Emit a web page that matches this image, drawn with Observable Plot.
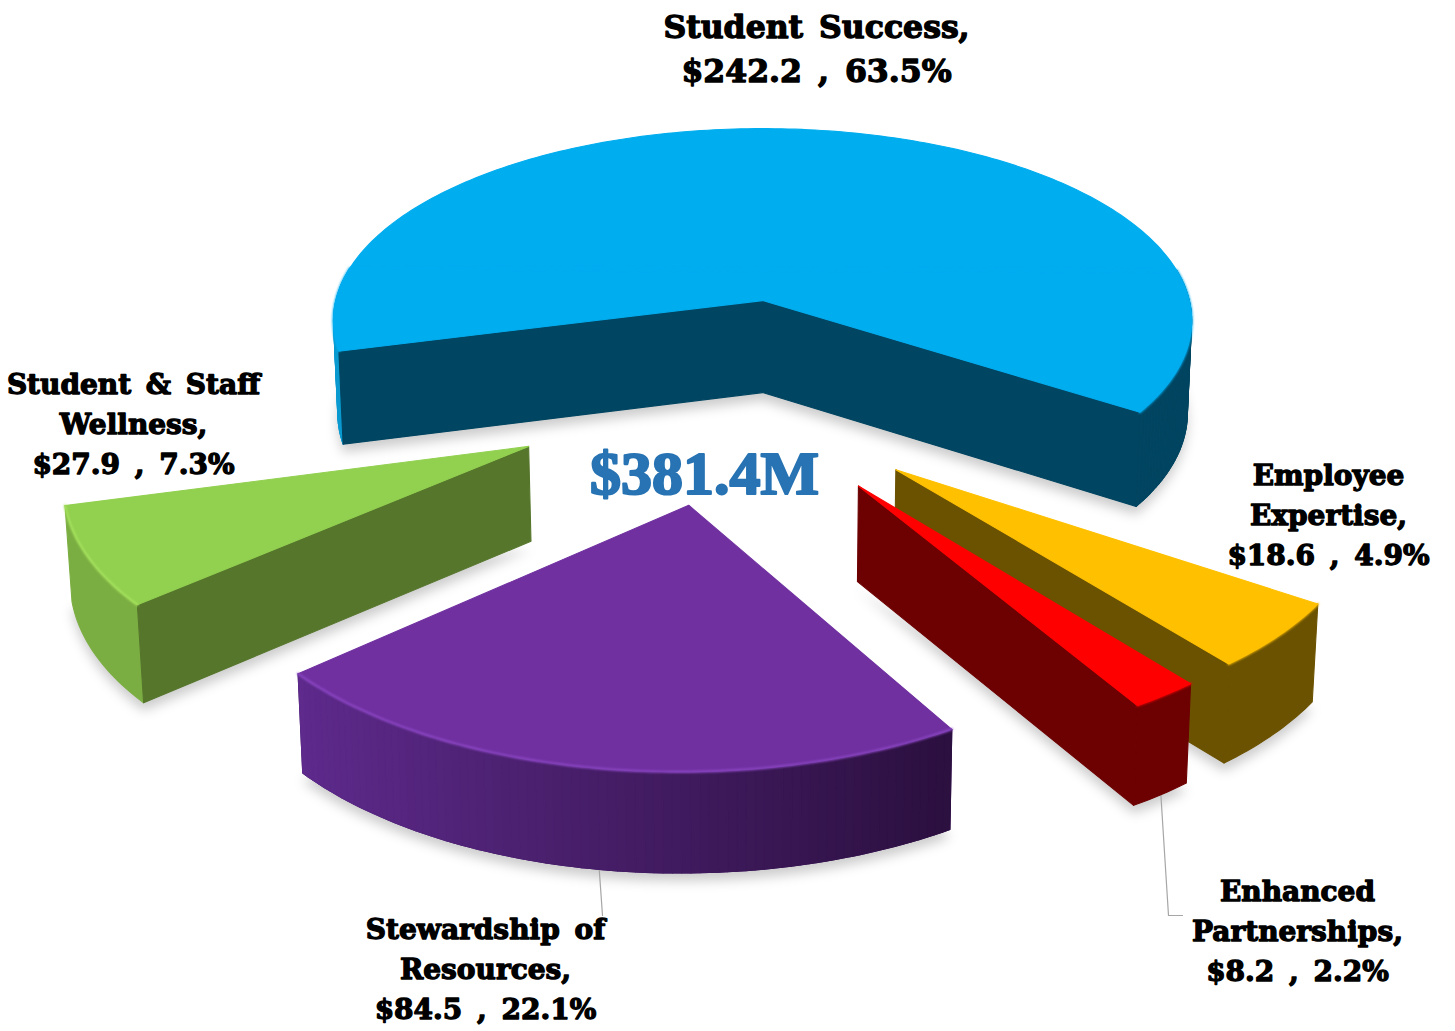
<!DOCTYPE html>
<html>
<head>
<meta charset="utf-8">
<script src="https://cdn.jsdelivr.net/npm/d3@7"></script>
<script src="https://cdn.jsdelivr.net/npm/@observablehq/plot@0.6"></script>
<style>
html,body{margin:0;padding:0;background:#fff}
.soft{filter:blur(6px)}
.glow{filter:blur(0.9px)}
.wide text{word-spacing:5px}
</style>
</head>
<body>
<div id="chart"></div>
<script>
// ---- data, in pie order (clockwise)
const names = ["Student Success", "Employee\nExpertise", "Enhanced\nPartnerships", "Stewardship of\nResources", "Student & Staff\nWellness"];
const amounts = [242.2, 18.6, 8.2, 84.5, 27.9];
const shares = [63.5, 4.9, 2.2, 22.1, 7.3];
const total = "$381.4M";

// ---- styles
const topColors = ["#00adef", "#ffc000", "#ff0000", "#7030a0", "#92d050"];
const cutColors = ["#004561", "#6b5200", "#6d0000", "#2c1040", "#56762c"];
const wallStops = [
  ["#0a9ad0", "#0a9ad0", "#004561", "#004561"],
  ["#6b5200", "#6b5200", "#6b5200", "#6b5200"],
  ["#6d0000", "#6d0000", "#6d0000", "#6d0000"],
  ["#5e2a8c", "#5e2a8c", "#2c1040", "#2c1040"],
  ["#7bae42", "#7bae42", "#7bae42", "#7bae42"]
];
const rimColors = ["#00adef", "#ffc000", "#ff0000", "#8c48c4", "#a6e35e"];
const paintOrder = [0, 4, 3, 1, 2];

// ---- view of the 3D pie
const view = {cx: 762, cy: 300, rx: 431, rz: 190, persp: 0.105, depth: 92, depthGrow: 35, taper: 0.99, rotation: 33.6};
const explodes = [0.49, 0.49, 0.49, 0.49, 0.48];
const rimScale = [0.99, 0.985, 0.985, 0.985, 0.985];
const origin = [-0.079, 0.484];
const labelX = [816, 1328, 1297, 485, 133];
const labelY = [45, 512, 928, 966, 421];
const leaderElbow = [null, null, [[1168, 915], [1182, 915]], [[602, 915]], null];

const rad = Math.PI / 180;
function project(X, Z, low) {
  const p = 1 / (1 - view.persp * Z);
  let x = view.cx + view.rx * X * p;
  let y = view.cy + view.rz * Z * p;
  if (low) {
    x = view.cx + (x - view.cx) * view.taper;
    y += view.depth + (p - 1) * view.depthGrow;
  }
  return [x, y];
}

// ---- slices from the values
const sum = d3.sum(amounts);
let cursor = view.rotation - 360 * amounts[0] / sum;
const slices = amounts.map((v, i) => {
  const a1 = cursor, a2 = cursor + 360 * v / sum;
  cursor = a2;
  const mid = (a1 + a2) / 2;
  const ax = origin[0] + explodes[i] * Math.cos(mid * rad);
  const az = origin[1] + explodes[i] * Math.sin(mid * rad);
  return {i, a1, a2, mid, ax, az};
});
const rimAt = (s, a, low) => project(s.ax + rimScale[s.i] * Math.cos(a * rad), s.az + Math.sin(a * rad), low);
const apexOf = (s, low) => project(s.ax, s.az, low);
function arc(s, low) {
  const pts = [];
  const n = Math.ceil(s.a2 - s.a1);
  for (let k = 0; k <= n; k++) pts.push(rimAt(s, s.a1 + (s.a2 - s.a1) * k / n, low));
  return pts;
}

const polys = [], shadows = [], rims = [];
let pid = 0;
const addPoly = (target, pts, fill) => { pid++; pts.forEach(([x, y]) => target.push({id: pid, x, y, fill})); };

for (const i of paintOrder) {
  const s = slices[i];
  const top = arc(s, false), low = arc(s, true);
  addPoly(shadows, [apexOf(s, true), ...low].map(([x, y]) => [x, y + 8]), "#000");
  // outer wall: a base run, then strips degree by degree for the shading
  const wall = d3.scaleLinear().domain([-1, -0.75, 0.5, 1]).range(wallStops[i]);
  const n = top.length - 1;
  const mids = d3.range(n).map(k => s.a1 + (s.a2 - s.a1) * (k + 0.5) / n);
  const shown = mids.map(a => Math.sin(a * rad) >= -0.17);
  let runStart = null;
  for (let k = 0; k <= n; k++) {
    if (k < n && shown[k]) { if (runStart === null) runStart = k; continue; }
    if (runStart !== null) {
      const t = top.slice(runStart, k + 1), l = low.slice(runStart, k + 1).reverse();
      const midA = mids[Math.floor((runStart + k) / 2)];
      addPoly(polys, [...t, ...l], d3.rgb(wall(Math.cos(midA * rad))).formatHex());
      runStart = null;
    }
  }
  if (new Set(wallStops[i]).size > 1) {
    for (let k = 0; k < n; k++) {
      if (!shown[k]) continue;
      addPoly(polys, [top[k], top[k + 1], low[k + 1], low[k]], d3.rgb(wall(Math.cos(mids[k] * rad))).formatHex());
    }
  }
  // cut faces that look at the viewer
  const showStart = Math.cos(s.a1 * rad) < 0, showEnd = Math.cos(s.a2 * rad) > 0;
  if (showStart && showEnd) {
    addPoly(polys, [top[0], apexOf(s), top[n], low[n], apexOf(s, true), low[0]], cutColors[i]);
  } else if (showStart) {
    addPoly(polys, [apexOf(s), top[0], low[0], apexOf(s, true)], cutColors[i]);
  } else if (showEnd) {
    addPoly(polys, [apexOf(s), top[n], low[n], apexOf(s, true)], cutColors[i]);
  }
  // top face, with a soft bevel along the rim
  addPoly(polys, [apexOf(s), ...top], topColors[i]);
  const rimPts = top.filter((_, k) => k === n || shown[Math.min(k, n - 1)] || shown[Math.max(k - 1, 0)]);
  rimPts.forEach(([x, y]) => rims.push({id: i, x, y, c: rimColors[i]}));
}

const labelRows = names.map((n, i) => ({
  text: `${n},\n$${amounts[i].toFixed(1)} , ${shares[i].toFixed(1)}%`, x: labelX[i], y: labelY[i], big: i === 0
}));
const leaders = [];
leaderElbow.forEach((e, i) => {
  if (!e) return;
  const [x, y] = rimAt(slices[i], slices[i].mid, true);
  [[x, y], ...e].forEach(([px, py]) => leaders.push({id: i, x: px, y: py}));
});

const textOpts = {x: "x", y: "y", text: "text", fill: "#000", stroke: "#000", strokeWidth: 1.3,
  fontFamily: "DejaVu Serif", fontWeight: "bold", textAnchor: "middle", className: "wide"};

const chart = Plot.plot({
  width: 1455, height: 1031, margin: 0,
  style: {background: "#fff"},
  x: {domain: [0, 1455], range: [0, 1455], axis: null},
  y: {domain: [0, 1031], range: [0, 1031], axis: null},
  color: {type: "identity"},
  marks: [
    Plot.line(shadows, {x: "x", y: "y", z: "id", fill: "#000", fillOpacity: 0.2, stroke: "none", curve: "linear-closed", className: "soft"}),
    Plot.line(leaders, {x: "x", y: "y", z: "id", stroke: "#a6a6a6", strokeWidth: 1.2}),
    Plot.line(polys, {x: "x", y: "y", z: "id", fill: "fill", stroke: "fill", strokeWidth: 1.1, curve: "linear-closed"}),
    Plot.line(rims, {x: "x", y: "y", z: "id", stroke: "c", strokeWidth: 2.2, className: "glow"}),
    Plot.text(labelRows.filter(d => d.big), {...textOpts, fontSize: 31.5, lineHeight: 44 / 31.5}),
    Plot.text(labelRows.filter(d => !d.big), {...textOpts, fontSize: 28, lineHeight: 40 / 28}),
    Plot.text([total], {x: [704], y: [474], text: d => d, fill: "#2773b3", stroke: "#2773b3", strokeWidth: 2.2,
      fontFamily: "Liberation Serif", fontWeight: "bold", fontSize: 62, textAnchor: "middle"})
  ]
});
document.getElementById("chart").appendChild(chart);
</script>
</body>
</html>
